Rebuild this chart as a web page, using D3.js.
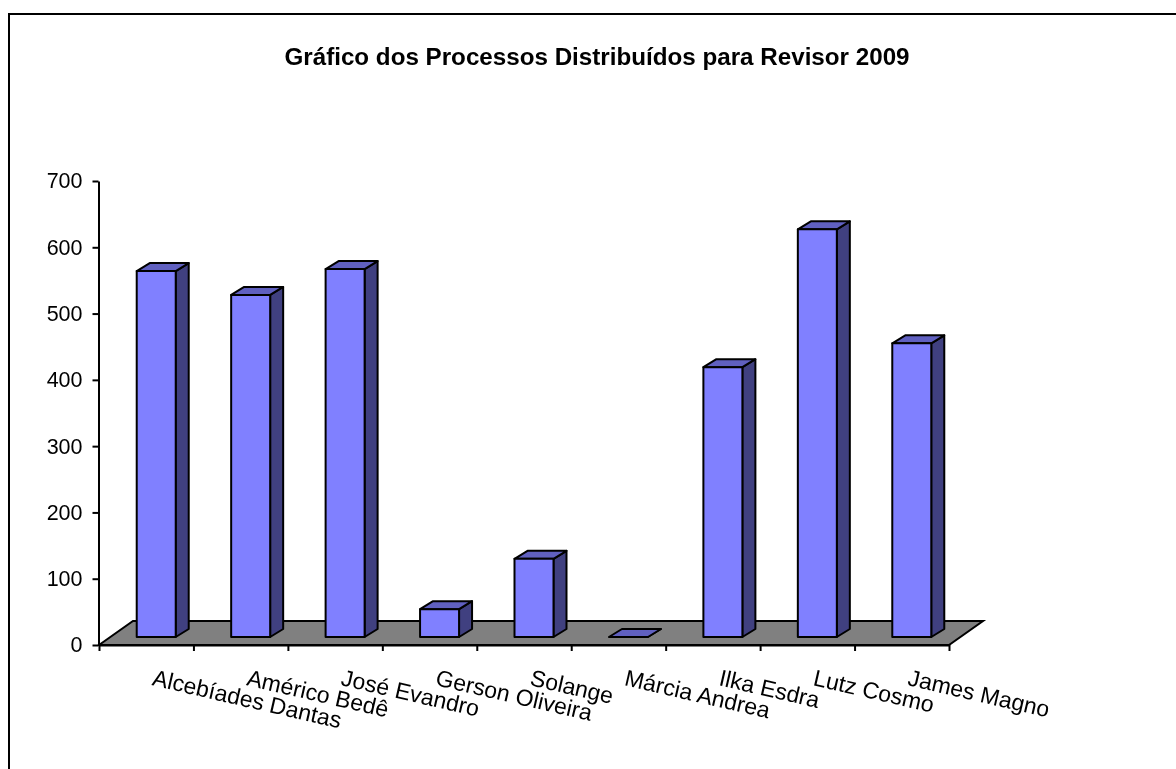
<!DOCTYPE html>
<html><head><meta charset="utf-8">
<script src="https://cdnjs.cloudflare.com/ajax/libs/d3/7.8.5/d3.min.js"></script>
<style>html,body{margin:0;padding:0;background:#fff}svg{display:block;filter:blur(0.35px)}text{font-family:"Liberation Sans",Arial,sans-serif;fill:#000}</style>
</head><body><svg id="c" width="1176" height="769"></svg>
<script>
const categories = ["Alcebíades Dantas","Américo Bedê","José Evandro","Gerson Oliveira","Solange","Márcia Andrea","Ilka Esdra","Lutz Cosmo","James Magno"];
const values = [552,516,555,42,118,0,407,615,443];
const yTicks = [0,100,200,300,400,500,600,700];
const titleText = "Gráfico dos Processos Distribuídos para Revisor 2009";

const W=1176,H=769;
const svg=d3.select("#c");
const y=d3.scaleLinear().domain([0,700]).range([645,181]);
const x=d3.scaleBand().domain(categories).range([99,949]);
const xEdge=d3.scaleLinear().domain([0,categories.length]).range([99,949]);
const floorDepth={dx:34,dy:-24}, barOffset={dx:10,dy:-8}, barDepth={dx:13,dy:-8}, barW=39;
const line=d3.line();
const sw=2;

svg.append("path").attr("d",line([[9,H],[9,14],[W,14]])).attr("fill","none").attr("stroke","#000").attr("stroke-width",2);
svg.append("text").attr("x",597).attr("y",65).attr("text-anchor","middle").attr("font-weight","bold").attr("font-size",24.2).text(titleText);

// floor
svg.append("path").attr("d",line([[99,y(0)],[99+floorDepth.dx,y(0)+floorDepth.dy],[949+floorDepth.dx,y(0)+floorDepth.dy],[949,y(0)]])+"Z")
  .attr("fill","#808080").attr("stroke","#000").attr("stroke-width",sw);

// bars
const bars=svg.append("g").selectAll("g").data(categories.map((c,i)=>({c,v:values[i]}))).join("g")
  .attr("stroke","#000").attr("stroke-width",sw).attr("stroke-linejoin","round");
const X0=d=>x(d.c)+x.bandwidth()/2-barW/2+barOffset.dx, X1=d=>X0(d)+barW;
const B=()=>y(0)+barOffset.dy, T=d=>y(d.v)+barOffset.dy;
bars.append("path").attr("fill","#404080").attr("d",d=>line([[X1(d),T(d)],[X1(d)+barDepth.dx,T(d)+barDepth.dy],[X1(d)+barDepth.dx,B()+barDepth.dy],[X1(d),B()]])+"Z");
bars.append("path").attr("fill","#6060c0").attr("d",d=>line([[X0(d),T(d)],[X0(d)+barDepth.dx,T(d)+barDepth.dy],[X1(d)+barDepth.dx,T(d)+barDepth.dy],[X1(d),T(d)]])+"Z");
bars.filter(d=>d.v>0).append("rect").attr("fill","#8080ff").attr("x",X0).attr("y",T).attr("width",barW).attr("height",d=>B()-T(d));

// axes
const gy=svg.append("g").attr("transform","translate(98.5,0)").call(d3.axisLeft(y).tickValues(yTicks).tickSize(6).tickSizeOuter(0).tickPadding(10));
gy.selectAll("text").attr("font-size",21.5).style("font-family",'"Liberation Sans",Arial,sans-serif');
gy.selectAll("line,path").attr("stroke","#000").attr("stroke-width",sw);
const gx=svg.append("g").attr("transform",`translate(0,${y(0)})`).call(d3.axisBottom(xEdge).tickValues(d3.range(categories.length+1)).tickFormat("").tickSize(6).tickSizeOuter(0));
gx.selectAll("line,path").attr("stroke","#000").attr("stroke-width",sw);

// rotated category labels
svg.append("g").selectAll("text").data(categories).join("text")
  .attr("font-size",23)
  .attr("transform",c=>`translate(${x(c)+x.bandwidth()/2+5},685) rotate(13)`)
  .text(c=>c);
</script></body></html>
